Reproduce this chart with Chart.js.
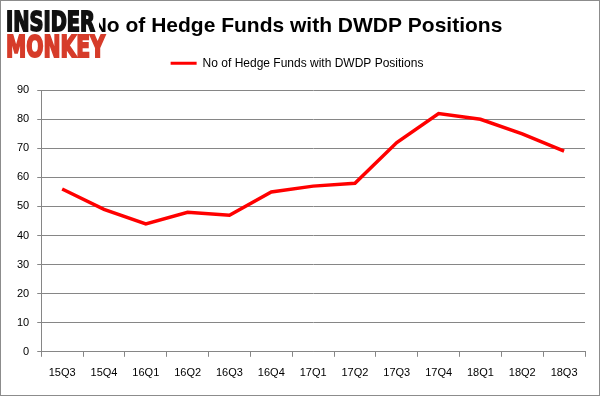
<!DOCTYPE html>
<html>
<head>
<meta charset="utf-8">
<script src="https://cdn.jsdelivr.net/npm/chart.js@4.4.1/dist/chart.umd.min.js"></script>
<style>
  body { margin: 0; background: #fff; }
  #wrap { width: 602px; height: 398px; }
</style>
</head>
<body>
<div id="wrap"><canvas id="lineCanvas" width="602" height="398"></canvas></div>
<script>
const quarters = ["15Q3","15Q4","16Q1","16Q2","16Q3","16Q4","17Q1","17Q2","17Q3","17Q4","18Q1","18Q2","18Q3"];
const hedgeFunds = [56, 49, 44, 48, 47, 55, 57, 58, 72, 82, 80, 75, 69];
const seriesName = "No of Hedge Funds with DWDP Positions";
const yTicks = [0, 10, 20, 30, 40, 50, 60, 70, 80, 90];

const gridGray = "#868686";

// white background, gray frame and the Insider Monkey logo
const decor = {
    id: "decor",
    beforeInit(chart) {
        // extra room between legend and plot
        const fit = chart.legend.fit;
        chart.legend.fit = function () {
            fit.bind(chart.legend)();
            this.height += 11;
        };
    },
    beforeDraw(chart) {
        const ctx = chart.ctx;
        ctx.save();
        ctx.fillStyle = "#fff";
        ctx.fillRect(0, 0, chart.width, chart.height);
        ctx.restore();
    },
    afterDraw(chart) {
        const ctx = chart.ctx;
        ctx.save();
        ctx.strokeStyle = "#8c8c8c";
        ctx.lineWidth = 1;
        ctx.strokeRect(0.5, 0.5, chart.width - 3, chart.height - 3);

        ctx.fillStyle = "#fff";
        ctx.fillRect(3, 8, 96, 26);
        ctx.fillRect(3, 34, 105, 26);

        ctx.font = "bold 24px 'DejaVu Sans'";
        ctx.textBaseline = "alphabetic";
        ctx.lineWidth = 1.6;
        ctx.lineJoin = "miter";
        let w = ctx.measureText("INSIDER").width;
        ctx.save();
        ctx.translate(6, 31);
        ctx.scale(89 / w, 1.12);
        ctx.fillStyle = "#111";
        ctx.strokeStyle = "#111";
        ctx.fillText("INSIDER", 0, 0);
        ctx.strokeText("INSIDER", 0, 0);
        ctx.restore();

        w = ctx.measureText("MONKEY").width;
        ctx.save();
        ctx.translate(6, 57);
        ctx.scale(99 / w, 1.24);
        ctx.fillStyle = "#d63c2a";
        ctx.strokeStyle = "#d63c2a";
        ctx.fillText("MONKEY", 0, 0);
        ctx.strokeText("MONKEY", 0, 0);
        ctx.restore();
        ctx.restore();
    }
};

const lineChart = new Chart(document.getElementById("lineCanvas"), {
    type: "line",
    data: {
        labels: quarters,
        datasets: [{
            label: seriesName,
            data: hedgeFunds,
            borderColor: "#ff0000",
            backgroundColor: "#ff0000",
            borderWidth: 3.5,
            pointRadius: 0,
            tension: 0
        }]
    },
    options: {
        responsive: false,
        animation: false,
        layout: { padding: { left: 9, right: 17, top: 6, bottom: 8 } },
        plugins: {
            title: {
                display: true,
                text: seriesName,
                color: "#000",
                font: { family: "'Liberation Sans'", size: 21, weight: "bold" },
                padding: { top: 8, bottom: 8 }
            },
            legend: {
                display: true,
                labels: {
                    color: "#000",
                    font: { family: "'Liberation Sans'", size: 12 },
                    boxWidth: 26,
                    boxHeight: 3,
                    padding: 10,
                    generateLabels(chart) {
                        const items = Chart.defaults.plugins.legend.labels.generateLabels(chart);
                        items.forEach(it => { it.lineWidth = 0; });
                        return items;
                    }
                }
            },
            tooltip: { enabled: false }
        },
        scales: {
            x: {
                offset: true,
                grid: {
                    display: true,
                    offset: true,
                    drawOnChartArea: false,
                    drawTicks: true,
                    tickLength: 5,
                    color: gridGray
                },
                border: { color: gridGray },
                ticks: {
                    color: "#000",
                    font: { family: "'Liberation Sans'", size: 11 },
                    padding: 10,
                    maxRotation: 0
                }
            },
            y: {
                min: 0,
                max: 90,
                afterBuildTicks(axis) {
                    axis.ticks = yTicks.map(v => ({ value: v }));
                },
                grid: {
                    color: gridGray,
                    tickLength: 4
                },
                border: { color: gridGray },
                ticks: {
                    color: "#000",
                    font: { family: "'Liberation Sans'", size: 11 },
                    padding: 8
                }
            }
        }
    },
    plugins: [decor]
});
</script>
</body>
</html>
